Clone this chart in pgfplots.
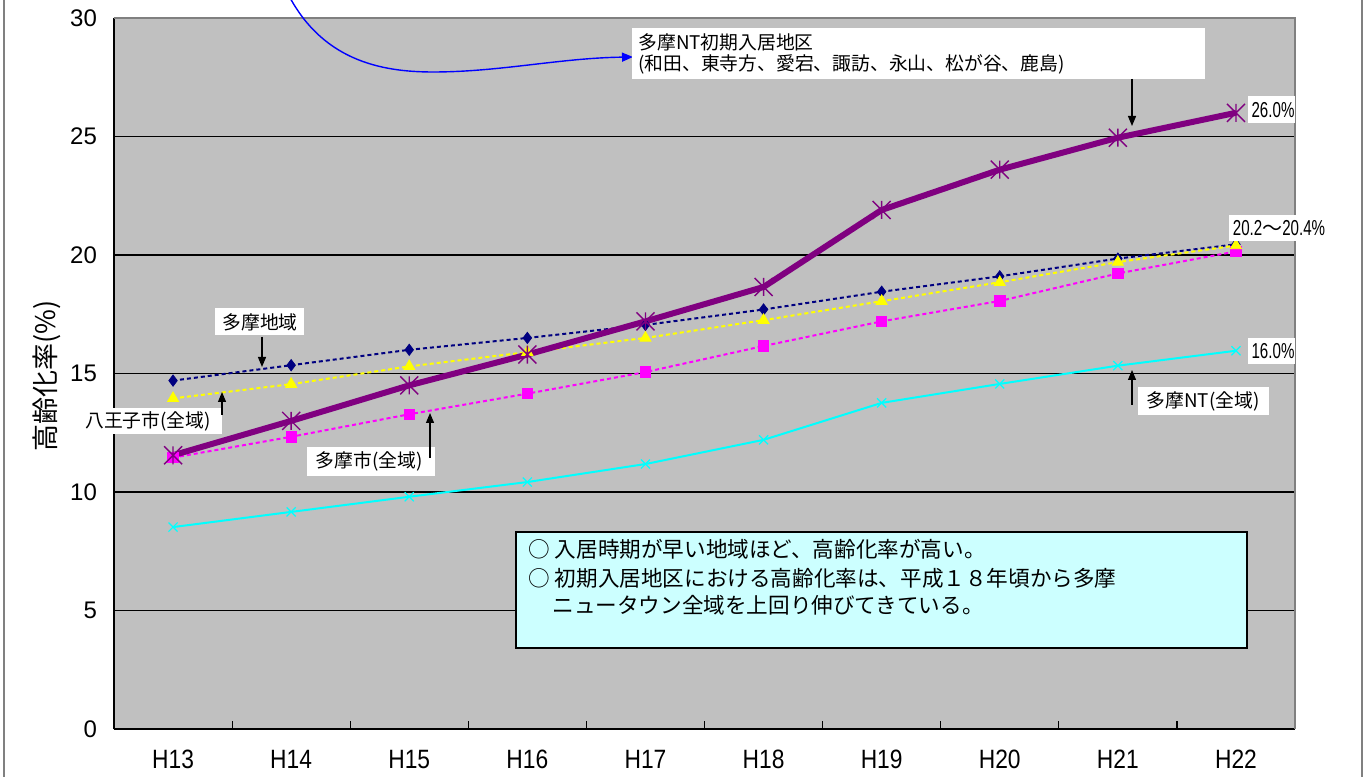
\documentclass[border=0pt]{standalone}
\usepackage{pgfplots}
\pgfplotsset{compat=1.18}
\usepackage{fontspec}
\setmainfont{Liberation Sans}
\newfontfamily\jp{Noto Sans CJK JP}
\newfontfamily\narrowA[FakeStretch=0.86]{Liberation Sans}
\newfontfamily\narrowB[FakeStretch=0.70]{Liberation Sans}
\usetikzlibrary{arrows.meta}
\definecolor{silver}{HTML}{C0C0C0}
\definecolor{navyc}{HTML}{000080}
\definecolor{yellowc}{HTML}{FFFF00}
\definecolor{magentac}{HTML}{FF00FF}
\definecolor{cyanc}{HTML}{00FFFF}
\definecolor{purplec}{HTML}{800080}
\definecolor{bluec}{HTML}{0000FF}
\definecolor{boxcyan}{HTML}{CCFFFF}
\definecolor{framegray}{HTML}{808080}
\pgfdeclareplotmark{xstar}{%
  \pgfpathmoveto{\pgfqpoint{-\pgfplotmarksize}{-\pgfplotmarksize}}%
  \pgfpathlineto{\pgfqpoint{\pgfplotmarksize}{\pgfplotmarksize}}%
  \pgfpathmoveto{\pgfqpoint{-\pgfplotmarksize}{\pgfplotmarksize}}%
  \pgfpathlineto{\pgfqpoint{\pgfplotmarksize}{-\pgfplotmarksize}}%
  \pgfpathmoveto{\pgfqpoint{0pt}{-\pgfplotmarksize}}%
  \pgfpathlineto{\pgfqpoint{0pt}{\pgfplotmarksize}}%
  \pgfusepathqstroke}
\newcommand{\annfont}{\jp\fontsize{9.4}{11}\selectfont}
\newcommand{\pctfont}{\narrowB\fontsize{10.8}{12}\selectfont}
\begin{document}
\begin{tikzpicture}
\useasboundingbox (-57pt,-23.5pt) rectangle (627.5pt,364.5pt);
\clip (-57pt,-23.5pt) rectangle (627.5pt,364.5pt);
\begin{axis}[
  at={(0pt,0pt)}, anchor=south west, scale only axis,
  width=590.5pt, height=355.5pt,
  xmin=-0.5, xmax=9.5, ymin=0, ymax=30,
  xtick={-0.5,0.5,...,9.5}, x tick label as interval,
  xticklabels={H13,H14,H15,H16,H17,H18,H19,H20,H21,H22},
  ytick={0,5,...,30},
  ymajorgrids, grid style={black, line width=0.6pt},
  axis lines*=left, axis line style={black, line width=0.8pt},
  tick align=inside, major tick length=4pt, tick style={black, line width=0.6pt},
  axis background/.style={fill=silver},
  xticklabel style={font=\narrowA\fontsize{13.25}{15}\selectfont, yshift=-7pt},
  yticklabel style={font=\fontsize{12}{14}\selectfont, xshift=-5pt},
  /pgf/number format/assume math mode=true,
  clip=false,
]
% 多摩NT(全域)
\addplot[cyanc, line width=1pt, mark=x, mark size=3.2pt, mark options={solid, line width=0.6pt}]
  coordinates {(0,8.52) (1,9.16) (2,9.8) (3,10.42) (4,11.18) (5,12.2) (6,13.76) (7,14.56) (8,15.33) (9,15.96)};
% 多摩地域
\addplot[navyc, line width=1pt, dash pattern=on 2pt off 1.5pt, mark=diamond*, mark size=2.8pt, mark options={solid, fill=navyc, line width=0.4pt}]
  coordinates {(0,14.7) (1,15.35) (2,16.0) (3,16.5) (4,17.05) (5,17.7) (6,18.45) (7,19.1) (8,19.85) (9,20.45)};
% 多摩市(全域)
\addplot[magentac, line width=1pt, dash pattern=on 2pt off 1.5pt, mark=square*, mark size=2.6pt, mark options={solid, fill=magentac, line width=0.4pt}]
  coordinates {(0,11.45) (1,12.33) (2,13.28) (3,14.15) (4,15.06) (5,16.16) (6,17.2) (7,18.06) (8,19.22) (9,20.15)};
% 八王子市(全域)
\addplot[yellowc, line width=1pt, dash pattern=on 2pt off 1.5pt, mark=triangle*, mark size=3.2pt, mark options={solid, fill=yellowc, line width=0.4pt}]
  coordinates {(0,13.95) (1,14.55) (2,15.3) (3,15.9) (4,16.5) (5,17.25) (6,18.05) (7,18.85) (8,19.7) (9,20.4)};
% 多摩NT初期入居地区
\addplot[purplec, line width=3pt, mark=xstar, mark size=4.5pt, mark options={solid, line width=0.7pt}]
  coordinates {(0,11.55) (1,13.0) (2,14.5) (3,15.8) (4,17.2) (5,18.65) (6,21.9) (7,23.6) (8,24.95) (9,26.0)};
\draw[framegray, line width=0.8pt] (rel axis cs:0,1) -- (rel axis cs:1,1) -- (rel axis cs:1,0);
\end{axis}
\begin{scope}[shift={(-57pt,364.5pt)}, x=0.5pt, y=-0.5pt]
  % outer frame
  \draw[framegray, line width=0.8pt] (4,-10) -- (4,790);
  \draw[framegray, line width=0.8pt] (1362,-10) -- (1362,790);
  % y label
  \node[rotate=90, font=\jp\fontsize{13.5}{15}\selectfont] at (47,376) {高齢化率(\%)};
  % blue curved arrow
  \draw[bluec, line width=0.7pt, -{Triangle[length=5.5pt,width=4.5pt]}]
    (286,-10) .. controls (320,60) and (380,72) .. (433,72)
    .. controls (500,72) and (560,58) .. (633,57);
  % label boxes
  \fill[white] (632,28) rectangle (1205,79);
  \node[anchor=west, font=\annfont, inner sep=0pt] at (638,42) {多摩NT初期入居地区};
  \node[anchor=west, font=\annfont, inner sep=0pt] at (638,64) {(和田、東寺方、愛宕、諏訪、永山、松が谷、鹿島)};
  \fill[white] (215,308) rectangle (304,335);
  \node[font=\annfont, inner sep=0pt] at (260,322) {多摩地域};
  \fill[white] (78,408) rectangle (222,434);
  \node[font=\annfont, inner sep=0pt] at (148,421) {八王子市(全域)};
  \fill[white] (307,447) rectangle (435,476);
  \node[font=\annfont, inner sep=0pt] at (369,461) {多摩市(全域)};
  \fill[white] (1138,387) rectangle (1269,415);
  \node[font=\annfont, inner sep=0pt] at (1203,401) {多摩NT(全域)};
  \fill[white] (1248,96) rectangle (1295,123);
  \node[font=\pctfont, inner sep=0pt] at (1273,110) {26.0\%};
  \fill[white] (1229,215) rectangle (1328,241);
  \node[font=\pctfont, inner sep=0pt] at (1279,228) {20.2{\jp\fontsize{10}{12}\selectfont ～}20.4\%};
  \fill[white] (1248,338) rectangle (1295,364);
  \node[font=\pctfont, inner sep=0pt] at (1273,351) {16.0\%};
  % black arrows
  \begin{scope}[black, line width=0.6pt, -{Triangle[length=5pt,width=4pt]}]
    \draw (1132,79) -- (1132,126);
    \draw (262,337) -- (262,367);
    \draw (222,415) -- (222,392);
    \draw (430,458) -- (430,413);
    \draw (1132,405) -- (1132,370);
  \end{scope}
  % comment box
  \draw[black, line width=0.6pt, fill=boxcyan] (516,532) rectangle (1247,648);
  \node[anchor=west, font=\jp\fontsize{10.8}{12}\selectfont, inner sep=0pt] at (528,549) {○ 入居時期が早い地域ほど、高齢化率が高い。};
  \node[anchor=west, font=\jp\fontsize{10.8}{12}\selectfont, inner sep=0pt] at (528,578) {○ 初期入居地区における高齢化率は、平成１８年頃から多摩};
  \node[anchor=west, font=\jp\fontsize{10.8}{12}\selectfont, inner sep=0pt] at (552,605) {ニュータウン全域を上回り伸びてきている。};
\end{scope}
\end{tikzpicture}
\end{document}
